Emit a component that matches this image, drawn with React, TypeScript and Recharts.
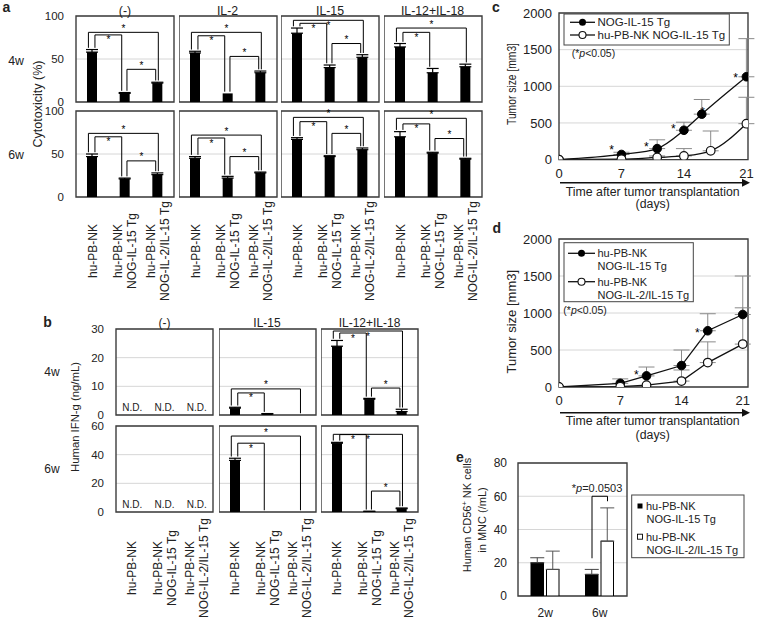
import React from 'react';
import {
  BarChart, Bar, XAxis, YAxis, CartesianGrid, ErrorBar, ReferenceLine,
  ReferenceDot, ReferenceArea, LineChart, Line,
} from 'recharts';

// ---------------- data ----------------
const groupLabels = ['hu-PB-NK', 'hu-PB-NK\nNOG-IL-15 Tg', 'hu-PB-NK\nNOG-IL-2/IL-15 Tg'];

// panel a: cytotoxicity (%)
const cytoConditions = ['(-)', 'IL-2', 'IL-15', 'IL-12+IL-18'];
const cytoTicks = [0, 50, 100];
const cyto4wMean = [[58, 10, 22], [57, 10, 34], [80, 40, 52], [64, 34, 41]];
const cyto4wErr = [[3, 1, 1], [2, 0, 2], [6, 3, 3], [4, 5, 3]];
const cyto6wMean = [[47, 21, 26], [45, 22, 28], [67, 47, 55], [70, 51, 44]];
const cyto6wErr = [[3, 1, 2], [2, 2, 1], [2, 1, 2], [6, 1, 1]];
// significance brackets: [from, to, level, star side]
const cyto4wSig: any[] = [
  [[0, 2, 81, 'up'], [0, 1, 78, 'down'], [1, 2, 38, 'up']],
  [[0, 2, 81, 'up'], [0, 1, 77, 'down'], [1, 2, 53, 'up']],
  [[0, 2, 95, 'down'], [0, 1, 91.5, 'down'], [1, 2, 68, 'up']],
  [[0, 2, 86, 'up'], [0, 1, 81, 'down']],
];
const cyto6wSig: any[] = [
  [[0, 2, 74, 'up'], [0, 1, 70, 'down'], [1, 2, 42, 'up']],
  [[0, 2, 72, 'up'], [0, 1, 68.6, 'down'], [1, 2, 47, 'up']],
  [[0, 2, 92.6, 'up'], [0, 1, 87.6, 'down'], [1, 2, 74, 'up']],
  [[0, 2, 91.5, 'up'], [0, 1, 85, 'down'], [1, 2, 68, 'up']],
];

// panel b: human IFN-g (ng/mL)
const ifnConditions = ['(-)', 'IL-15', 'IL-12+IL-18'];
const ifn4wTicks = [0, 10, 20, 30];
const ifn6wTicks = [0, 20, 40, 60];
const ifn4wMean = [[0, 0, 0], [2.4, 0.3, 0], [24, 5.5, 1.2]];
const ifn4wErr = [[0, 0, 0], [0.3, 0.2, 0], [2, 0.3, 0.8]];
const ifn6wMean = [[0, 0, 0], [36, 0, 0], [48, 0.4, 2.3]];
const ifn6wErr = [[0, 0, 0], [1.5, 0, 0], [0.6, 0.1, 0.5]];
const ifnNotDetected = [true, false, false];
const ifn4wSig: any[] = [
  [],
  [[0, 2, 9.1, 'up'], [0, 1, 7.7, 'down']],
  [[0, 2, 29.3, 'down'], [0, 1, 28.6, 'down'], [1, 2, 9.4, 'up']],
];
const ifn6wSig: any[] = [
  [],
  [[0, 2, 53, 'up'], [0, 1, 48, 'down']],
  [[0, 2, 54.2, 'down'], [0, 1, 54, 'down'], [1, 2, 14.6, 'up']],
];

// panel c: tumor size [mm3]
const tumorDayTicks = [0, 7, 14, 21];
const tumorSizeTicks = [0, 500, 1000, 1500, 2000];
const cLegend = ['NOG-IL-15 Tg', 'hu-PB-NK NOG-IL-15 Tg'];
const cDaysNog = [0, 7, 11, 14, 16, 21];
const cSizeNog = [0, 70, 150, 400, 620, 1130];
const cErrNog = [0, 30, 120, 110, 200, 520];
const cDaysNK = [0, 7, 11, 14, 17, 21];
const cSizeNK = [0, 5, 30, 50, 120, 490];
const cErrNK = [0, 0, 20, 100, 270, 360];
const cStarDays = [5.9, 9.8, 12.8, 16.1, 19.8];
const cStarSizes = [172, 208, 454, 686, 1150];

// panel d
const dLegend = [['hu-PB-NK', 'NOG-IL-15 Tg'], ['hu-PB-NK', 'NOG-IL-2/IL-15 Tg']];
const dDays = [0, 7, 10, 14, 17, 21];
const dSizeIL15 = [0, 50, 150, 290, 760, 980];
const dErrIL15 = [0, 60, 120, 210, 230, 520];
const dSizeIL2IL15 = [0, 5, 25, 80, 330, 580];
const dErrIL2IL15 = [0, 0, 0, 150, 280, 490];
const dStarDays = [8.85, 15.8];
const dStarSizes = [197, 774];

// panel e: human CD56+ NK cells in MNC (/mL)
const eTimes = ['2w', '6w'];
const eTicks = [0, 20, 40, 60, 80];
const eMeanIL15 = [20, 13];
const eErrIL15 = [3, 3];
const eMeanIL2IL15 = [16, 33];
const eErrIL2IL15 = [11, 20];
const eBracketLevel = 60;
const eBracketFeet = [22.7, 57];
const eNote = '0.0503';

// ---------------- style / layout ----------------
const INK = '#222';
const FRAME = '#3d3d3d';
const GRID = '#d6d6d6';
const FONT = '"Liberation Sans", Arial, Helvetica, sans-serif';

const A_LEFT = 76, A_STEP = 102.5, A_W = 98, A_H = 86;
const A_TOPS = [16, 111];
const B_LEFT = 116, B_STEP = 102.5, B_W = 97, B_H = 86;
const B_TOPS = [329, 426];
const CD_LEFT = 559.3, CD_W = 189;
const C_TOP = 12.7, C_H = 146.6;
const D_TOP = 239.3, D_H = 148;
const E_LEFT = 518.3, E_TOP = 462.7, E_W = 109, E_H = 133;

const groupPos = groupLabels.map((_, i) => i + 0.5);
const ePos = eTimes.map((_, i) => i + 0.5);

function errPair(v: number) {
  return v > 0 ? [0, v] : null;
}

function starShape(dy: number, size: number) {
  return (p: any) => (
    <text x={p.cx} y={p.cy + dy} textAnchor="middle" fontSize={size} fill="#000">*</text>
  );
}

function sigMarks(sig: any[], means: number[], errs: number[], max: number, prefix: string) {
  const gap = max * 0.02;
  const out: any[] = [];
  sig.forEach(([from, to, lvl, side]: any, k: number) => {
    let d1 = 0.06, d2 = -0.06;
    if (from === 0 && to === 2) { d1 = -0.12; d2 = 0.02; }
    else if (from === 0 && to === 1) { d1 = 0.08; d2 = -0.1; }
    const x1 = groupPos[from] + d1;
    const x2 = groupPos[to] + d2;
    const b1 = means[from] + errs[from] + gap;
    const b2 = means[to] + errs[to] + gap;
    const common: any = { stroke: '#000', strokeWidth: 1, ifOverflow: 'visible' };
    out.push(<ReferenceLine key={`${prefix}${k}l`} {...common} segment={[{ x: x1, y: b1 }, { x: x1, y: lvl }]} />);
    out.push(<ReferenceLine key={`${prefix}${k}t`} {...common} segment={[{ x: x1, y: lvl }, { x: x2, y: lvl }]} />);
    out.push(<ReferenceLine key={`${prefix}${k}r`} {...common} segment={[{ x: x2, y: lvl }, { x: x2, y: b2 }]} />);
    out.push(
      <ReferenceDot key={`${prefix}${k}s`} x={(x1 + x2) / 2} y={lvl} r={0} ifOverflow="visible"
        shape={starShape(side === 'up' ? -0.5 : 8.5, 10)} />,
    );
  });
  return out;
}

function makeCatTick(offset: number) {
  return (p: any) => {
    const idx = Math.round(Number(p.payload.value) - 0.5);
    const lines = String(groupLabels[idx] ?? '').split('\n');
    const n = lines.length;
    return (
      <g>
        {lines.map((ln, i) => (
          <text key={i} x={0} y={0}
            transform={`translate(${p.x + (i - (n - 1) / 2) * 14},${p.y + offset}) rotate(-90)`}
            textAnchor="middle" dy="0.35em" fontSize={12} fill={INK}>{ln}</text>
        ))}
      </g>
    );
  };
}

function PanelBars(props: any) {
  const { left, top, width, height, max, ticks, means, errs, sig, showY, yTickMargin, labelOffset, nd, id } = props;
  const data = groupPos.map((x, i) => ({ x, v: means[i], e: errPair(errs[i]) }));
  const axisW = showY ? 44 : 0;
  const padT = 8, padR = 4;
  const bandH = labelOffset ? labelOffset + 60 : 0;
  const padB = labelOffset ? 0 : 8;
  const W = axisW + width + padR;
  const H = padT + height + bandH + padB;
  return (
    <div style={{ position: 'absolute', left: left - axisW, top: top - padT, width: W, height: H }}>
      <BarChart width={W} height={H} data={data} margin={{ top: padT, right: padR, bottom: padB, left: 0 }}>
        <CartesianGrid vertical={false} stroke={GRID} strokeWidth={1} />
        <XAxis type="number" dataKey="x" domain={[0, 3]} ticks={groupPos} allowDataOverflow hide={!labelOffset}
          height={bandH} interval={0} tickLine={false} axisLine={false}
          tickSize={0} tickMargin={0} tick={labelOffset ? makeCatTick(labelOffset) : false} />
        <YAxis domain={[0, max]} ticks={ticks} interval={0} allowDataOverflow hide={!showY} width={axisW}
          tickLine={false} axisLine={false} tickSize={0} tickMargin={yTickMargin}
          tick={{ fill: INK, fontSize: 11.5 }} />
        <ReferenceArea x1={0} x2={3} y1={0} y2={max} fill="none" stroke={FRAME} strokeWidth={1.4} ifOverflow="visible" />
        <Bar dataKey="v" fill="#000" barSize={10} isAnimationActive={false}>
          <ErrorBar dataKey="e" width={6} stroke="#000" strokeWidth={1.2} direction="y" />
        </Bar>
        {sigMarks(sig, means, errs, max, id)}
        {nd
          ? groupPos.map((x, i) => (
            <ReferenceDot key={'nd' + i} x={x} y={max * 0.093} r={0} ifOverflow="visible"
              shape={(p: any) => (
                <text x={p.cx} y={p.cy} dy="0.35em" textAnchor="middle" fontSize={10} fill={INK}>N.D.</text>
              )} />
          ))
          : null}
      </BarChart>
    </div>
  );
}

function buildSeries(days: number[], sizes: number[], errs: number[]) {
  return days.map((day, i) => ({ day, size: sizes[i], e: errPair(errs[i]) }));
}

function TumorChart(props: any) {
  const { top, height, xMax, series1, series2, starDays, starSizes, curve } = props;
  const axisW = 52, padT = 7, padR = 10, axisH = 24;
  const W = axisW + CD_W + padR, H = padT + height + axisH;
  return (
    <div style={{ position: 'absolute', left: CD_LEFT - axisW, top: top - padT, width: W, height: H }}>
      <LineChart width={W} height={H} margin={{ top: padT, right: padR, bottom: 0, left: 0 }}>
        <CartesianGrid vertical={false} stroke={GRID} />
        <XAxis type="number" dataKey="day" domain={[0, xMax]} ticks={tumorDayTicks} interval={0} allowDataOverflow
          height={axisH} tickLine={false} axisLine={false} tickSize={0} tickMargin={9}
          tick={{ fill: INK, fontSize: 13 }} />
        <YAxis type="number" domain={[0, 2000]} ticks={tumorSizeTicks} interval={0} allowDataOverflow width={axisW}
          tickLine={false} axisLine={false} tickSize={0} tickMargin={7} tick={{ fill: INK, fontSize: 13 }} />
        <ReferenceArea x1={0} x2={xMax} y1={0} y2={2000} fill="none" stroke={FRAME} strokeWidth={1.4} ifOverflow="visible" />
        <Line data={series1} dataKey="size" type={curve} stroke="#111" strokeWidth={1.3}
          dot={{ r: 4.3, fill: '#000', stroke: '#000', strokeWidth: 1 }} isAnimationActive={false}>
          <ErrorBar dataKey="e" width={8} stroke="#8a8a8a" strokeWidth={1} direction="y" />
        </Line>
        <Line data={series2} dataKey="size" type={curve} stroke="#111" strokeWidth={1.3}
          dot={{ r: 4.3, fill: '#fff', stroke: '#111', strokeWidth: 1.2 }} isAnimationActive={false}>
          <ErrorBar dataKey="e" width={8} stroke="#8a8a8a" strokeWidth={1} direction="y" />
        </Line>
        {starDays.map((d: number, i: number) => (
          <ReferenceDot key={'st' + i} x={d} y={starSizes[i]} r={0} ifOverflow="visible" shape={starShape(6.8, 12)} />
        ))}
      </LineChart>
    </div>
  );
}

function CellsChart() {
  const axisW = 40, padT = 8, padR = 4, axisH = 28;
  const W = axisW + E_W + padR, H = padT + E_H + axisH;
  const data = ePos.map((x, i) => ({
    x, a: eMeanIL15[i], ae: errPair(eErrIL15[i]), b: eMeanIL2IL15[i], be: errPair(eErrIL2IL15[i]),
  }));
  const barSize = 12.5, barGap = 3;
  const off = (barSize + barGap) / 2 / (E_W / eTimes.length);
  const x1 = ePos[1] - off, x2 = ePos[1] + off;
  const common: any = { stroke: '#000', strokeWidth: 1, ifOverflow: 'visible' };
  return (
    <div style={{ position: 'absolute', left: E_LEFT - axisW, top: E_TOP - padT, width: W, height: H }}>
      <BarChart width={W} height={H} data={data} barGap={barGap} margin={{ top: padT, right: padR, bottom: 0, left: 0 }}>
        <CartesianGrid vertical={false} stroke={GRID} />
        <XAxis type="number" dataKey="x" domain={[0, eTimes.length]} ticks={ePos} allowDataOverflow height={axisH}
          interval={0} tickLine={false} axisLine={false} tickSize={0} tickMargin={12}
          tickFormatter={(v: number) => eTimes[Math.round(v - 0.5)]}
          tick={{ fill: INK, fontSize: 12 }} />
        <YAxis domain={[0, 80]} ticks={eTicks} interval={0} allowDataOverflow width={axisW} tickLine={false}
          axisLine={false} tickSize={0} tickMargin={11} tick={{ fill: INK, fontSize: 12 }} />
        <ReferenceArea x1={0} x2={eTimes.length} y1={0} y2={80} fill="none" stroke={FRAME} strokeWidth={1.4} ifOverflow="visible" />
        <Bar dataKey="a" fill="#000" stroke="#000" strokeWidth={1} barSize={barSize} isAnimationActive={false}>
          <ErrorBar dataKey="ae" width={7} stroke="#444" strokeWidth={1} direction="y" />
        </Bar>
        <Bar dataKey="b" fill="#fff" stroke="#000" strokeWidth={1} barSize={barSize} isAnimationActive={false}>
          <ErrorBar dataKey="be" width={7} stroke="#555" strokeWidth={1} direction="y" />
        </Bar>
        <ReferenceLine {...common} segment={[{ x: x1, y: eBracketFeet[0] }, { x: x1, y: eBracketLevel }]} />
        <ReferenceLine {...common} segment={[{ x: x1, y: eBracketLevel }, { x: x2, y: eBracketLevel }]} />
        <ReferenceLine {...common} segment={[{ x: x2, y: eBracketLevel }, { x: x2, y: eBracketFeet[1] }]} />
        <ReferenceDot x={(x1 + x2) / 2 - 0.05} y={eBracketLevel + 5} r={0} ifOverflow="visible"
          shape={(p: any) => (
            <text x={p.cx} y={p.cy} dy="0.35em" textAnchor="middle" fontSize={11} fill={INK}>
              *<tspan fontStyle="italic">p</tspan>={eNote}
            </text>
          )} />
      </BarChart>
    </div>
  );
}

function Txt(props: any) {
  const { x, y, size = 12, anchor = 'middle', weight, rotate, children, textLength } = props;
  return (
    <text x={x} y={y} dy="0.35em" fontSize={size} textAnchor={anchor} fontWeight={weight} fill={INK}
      transform={rotate ? `rotate(${rotate} ${x} ${y})` : undefined}
      textLength={textLength} lengthAdjust={textLength ? 'spacingAndGlyphs' : undefined}>
      {children}
    </text>
  );
}

function Overlay() {
  return (
    <svg width={760} height={625} style={{ position: 'absolute', left: 0, top: 0, pointerEvents: 'none' }}>
      {/* panel a */}
      <Txt x={6.5} y={7} size={14} weight="bold">a</Txt>
      {cytoConditions.map((c, i) => (
        <Txt key={'at' + i} x={A_LEFT + i * A_STEP + A_W / 2} y={10.5} size={12.3}>{c}</Txt>
      ))}
      <Txt x={16} y={61} size={12.3}>4w</Txt>
      <Txt x={16} y={155} size={12.3}>6w</Txt>
      <Txt x={38} y={104} size={12.5} rotate={-90}>Cytotoxicity (%)</Txt>

      {/* panel b */}
      <Txt x={47.5} y={322} size={14} weight="bold">b</Txt>
      {ifnConditions.map((c, i) => (
        <Txt key={'bt' + i} x={B_LEFT + i * B_STEP + B_W / 2} y={322.5} size={12}>{c}</Txt>
      ))}
      <Txt x={52} y={372} size={12}>4w</Txt>
      <Txt x={52} y={469} size={12}>6w</Txt>
      <Txt x={75} y={417} size={11.3} rotate={-90}>Human IFN-g (ng/mL)</Txt>

      {/* panel c */}
      <Txt x={496} y={7.5} size={14} weight="bold">c</Txt>
      <Txt x={511.7} y={84} size={12.5} rotate={-90} textLength={82}>Tumor size [mm3]</Txt>
      <line x1={560} y1={182.7} x2={743} y2={182.7} stroke="#111" strokeWidth={1.6} />
      <polygon points="742,178.7 750,182.7 742,186.7" fill="#111" />
      <Txt x={652.7} y={191.5} size={12.3}>Time after tumor transplantation</Txt>
      <Txt x={652.7} y={204} size={12.3}>(days)</Txt>
      <rect x={564} y={14} width={165.3} height={31} fill="#fff" stroke="#444" strokeWidth={1} />
      <line x1={570} y1={22.3} x2={595} y2={22.3} stroke="#111" strokeWidth={1.3} />
      <circle cx={582.5} cy={22.3} r={3.5} fill="#000" />
      <Txt x={597.5} y={22.3} size={11.5} anchor="start">{cLegend[0]}</Txt>
      <line x1={570} y1={35} x2={595} y2={35} stroke="#111" strokeWidth={1.3} />
      <circle cx={582.5} cy={35} r={3.5} fill="#fff" stroke="#111" strokeWidth={1.1} />
      <Txt x={597.5} y={35} size={11.5} anchor="start">{cLegend[1]}</Txt>
      <Txt x={571.7} y={53.3} size={10.5} anchor="start">(*<tspan fontStyle="italic">p</tspan>&lt;0.05)</Txt>

      {/* panel d */}
      <Txt x={496.7} y={228} size={14} weight="bold">d</Txt>
      <Txt x={511.7} y={321.7} size={13} rotate={-90}>Tumor size [mm3]</Txt>
      <line x1={560} y1={412.8} x2={743} y2={412.8} stroke="#111" strokeWidth={1.6} />
      <polygon points="742,408.8 750,412.8 742,416.8" fill="#111" />
      <Txt x={652.7} y={421} size={12.3}>Time after tumor transplantation</Txt>
      <Txt x={652.7} y={435} size={12.3}>(days)</Txt>
      <rect x={564} y={242.7} width={129.3} height={59} fill="#fff" stroke="#444" strokeWidth={1} />
      <line x1={568} y1={253.3} x2={595} y2={253.3} stroke="#111" strokeWidth={1.3} />
      <circle cx={581.5} cy={253.3} r={3.5} fill="#000" />
      <Txt x={597.5} y={253.3} size={11} anchor="start">{dLegend[0][0]}</Txt>
      <Txt x={597.5} y={266} size={11} anchor="start">{dLegend[0][1]}</Txt>
      <line x1={568} y1={281.7} x2={595} y2={281.7} stroke="#111" strokeWidth={1.3} />
      <circle cx={581.5} cy={281.7} r={3.5} fill="#fff" stroke="#111" strokeWidth={1.1} />
      <Txt x={597.5} y={281.7} size={11} anchor="start">{dLegend[1][0]}</Txt>
      <Txt x={597.5} y={295} size={11} anchor="start">{dLegend[1][1]}</Txt>
      <Txt x={563.3} y={310.7} size={10.5} anchor="start">(*<tspan fontStyle="italic">p</tspan>&lt;0.05)</Txt>

      {/* panel e */}
      <Txt x={460} y={457} size={14} weight="bold">e</Txt>
      <text x={466.7} y={515} dy="0.35em" fontSize={11} textAnchor="middle" fill={INK}
        transform="rotate(-90 466.7 515)">
        Human CD56<tspan fontSize={7.5} dy={-4}>+</tspan><tspan dy={4}> NK cells</tspan>
      </text>
      <Txt x={482.5} y={520} size={11} rotate={-90}>in MNC (/mL)</Txt>
      <rect x={631.7} y={495} width={112.3} height={62.7} fill="#fff" stroke="#444" strokeWidth={1} />
      <rect x={637.5} y={503.5} width={5} height={5} fill="#000" />
      <Txt x={646} y={506} size={11} anchor="start">hu-PB-NK</Txt>
      <Txt x={646.5} y={519} size={11} anchor="start">NOG-IL-15 Tg</Txt>
      <rect x={637.5} y={534.2} width={5} height={5} fill="#fff" stroke="#000" strokeWidth={0.9} />
      <Txt x={646} y={536.7} size={11} anchor="start">hu-PB-NK</Txt>
      <Txt x={646.5} y={550} size={11} anchor="start">NOG-IL-2/IL-15 Tg</Txt>
    </svg>
  );
}

export default function App() {
  const c1 = buildSeries(cDaysNog, cSizeNog, cErrNog);
  const c2 = buildSeries(cDaysNK, cSizeNK, cErrNK);
  const d1 = buildSeries(dDays, dSizeIL15, dErrIL15);
  const d2 = buildSeries(dDays, dSizeIL2IL15, dErrIL2IL15);
  return (
    <div style={{ position: 'absolute', left: 0, top: 0, width: 760, height: 625, background: '#fff', fontFamily: FONT, overflow: 'hidden' }}>
      {cytoConditions.map((c, i) => (
        <React.Fragment key={'a' + i}>
          <PanelBars id={'a4' + i} left={A_LEFT + i * A_STEP} top={A_TOPS[0]} width={A_W} height={A_H} max={100}
            ticks={cytoTicks} means={cyto4wMean[i]} errs={cyto4wErr[i]} sig={cyto4wSig[i]} showY={i === 0}
            yTickMargin={12} />
          <PanelBars id={'a6' + i} left={A_LEFT + i * A_STEP} top={A_TOPS[1]} width={A_W} height={A_H} max={100}
            ticks={cytoTicks} means={cyto6wMean[i]} errs={cyto6wErr[i]} sig={cyto6wSig[i]} showY={i === 0}
            yTickMargin={12} labelOffset={54} />
        </React.Fragment>
      ))}
      {ifnConditions.map((c, i) => (
        <React.Fragment key={'b' + i}>
          <PanelBars id={'b4' + i} left={B_LEFT + i * B_STEP} top={B_TOPS[0]} width={B_W} height={B_H} max={30}
            ticks={ifn4wTicks} means={ifn4wMean[i]} errs={ifn4wErr[i]} sig={ifn4wSig[i]} showY={i === 0}
            yTickMargin={12} nd={ifnNotDetected[i]} />
          <PanelBars id={'b6' + i} left={B_LEFT + i * B_STEP} top={B_TOPS[1]} width={B_W} height={B_H} max={60}
            ticks={ifn6wTicks} means={ifn6wMean[i]} errs={ifn6wErr[i]} sig={ifn6wSig[i]} showY={i === 0}
            yTickMargin={12} labelOffset={56} nd={ifnNotDetected[i]} />
        </React.Fragment>
      ))}
      <TumorChart top={C_TOP} height={C_H} xMax={21.18} series1={c1} series2={c2}
        starDays={cStarDays} starSizes={cStarSizes} curve="monotone" />
      <TumorChart top={D_TOP} height={D_H} xMax={21.6} series1={d1} series2={d2}
        starDays={dStarDays} starSizes={dStarSizes} curve="linear" />
      <CellsChart />
      <Overlay />
    </div>
  );
}
